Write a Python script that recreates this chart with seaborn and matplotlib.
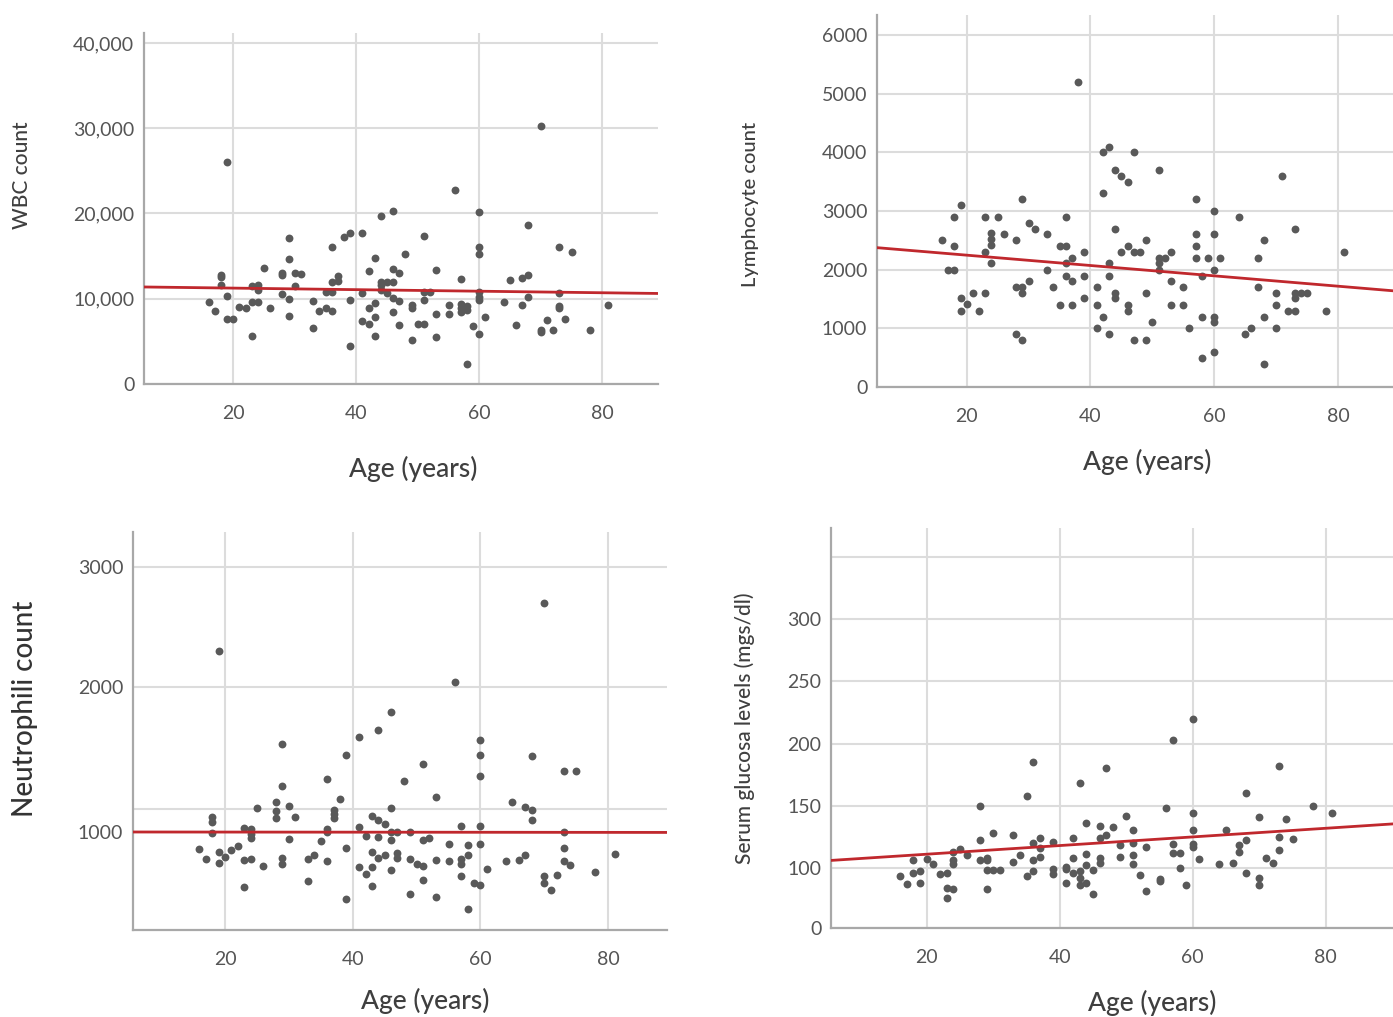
import numpy as np
import pandas as pd
import matplotlib
matplotlib.use("Agg")
import matplotlib.pyplot as plt
import seaborn as sns

# --- Data (age in years) ---
wbc_age = [
    19, 18, 18, 18, 16, 17, 19, 19, 20,
    21, 22, 23, 23, 24, 23, 24, 24, 25, 26,
    28, 28, 28, 29, 29, 30, 31, 30, 29, 29,
    33, 33, 34, 35, 36, 35, 36, 36, 37, 37,
    36, 38, 39, 41, 39, 39, 41, 41, 42, 42,
    43, 43, 43, 42, 43, 44, 46, 44, 44, 44,
    45, 46, 45, 46, 47, 46, 47, 46, 47, 48,
    49, 49, 49, 50, 51, 51, 52, 51, 51, 53,
    53, 53, 55, 55, 56, 57, 57, 57, 57, 58,
    58, 59, 58, 60, 60, 60, 60, 60, 60, 60,
    61, 64, 65, 66, 67, 67, 68, 68, 68, 70,
    70, 70, 71, 72, 73, 73, 73, 73, 74, 75, 78, 81,
]
wbc = [
    26000, 12800, 12500, 11600, 9650, 8600, 10270, 7600, 7600,
    9030, 8880, 5580, 9570, 9650, 11470, 11590, 11010, 13640, 8950,
    13020, 12750, 10500, 17090, 14650, 13020, 12870, 11470, 9920, 8020,
    9730, 6550, 8600, 8880, 8600, 10810, 10810, 11980, 12640, 12050,
    16085, 17290, 17670, 17670, 9850, 4420, 10700, 7400, 7000, 8880,
    9460, 7830, 5580, 13260, 14810, 19650, 20310, 11980, 11590, 11010,
    11980, 11980, 10620, 10040, 9730, 13530, 13060, 8490, 6900, 15270,
    9260, 8950, 5190, 7000, 17400, 10810, 10810, 9850, 7000, 13370,
    8220, 5470, 9260, 8220, 22710, 12290, 9400, 8900, 8500, 9200,
    8700, 6820, 2290, 20190, 16050, 15230, 10740, 10230, 9850, 5850,
    7910, 9650, 12170, 6940, 9260, 12480, 12750, 18640, 10150, 30270,
    6360, 6100, 7520, 6360, 16050, 10620, 9190, 8880, 7640, 15540, 6360, 9260,
]

lym_age = [
    38, 16, 18, 19, 18, 17, 18, 19, 20, 19,
    21, 22, 23, 23, 25, 24, 24, 24, 23, 24,
    26, 28, 29, 30, 31, 28, 29, 29, 30, 28,
    29, 33, 33, 34, 35, 36, 36, 37, 36, 36,
    37, 35, 37, 39, 39, 39, 41, 41, 41, 42,
    43, 42, 43, 47, 44, 45, 46, 42, 44, 43,
    43, 44, 44, 46, 46, 45, 46, 47, 48, 49,
    49, 47, 49, 50, 51, 52, 51, 51, 53, 51,
    53, 53, 55, 55, 56, 57, 57, 57, 57, 59,
    61, 60, 60, 60, 58, 58, 60, 60, 58, 60,
    64, 65, 66, 67, 67, 68, 68, 68, 70, 70,
    70, 71, 73, 73, 74, 75, 73, 72, 73, 78, 81,
]
lym = [
    5200, 2500, 2900, 3100, 2400, 2000, 2000, 1510, 1410, 1300,
    1600, 1300, 1600, 2900, 2900, 2620, 2520, 2420, 2300, 2110,
    2600, 2500, 3200, 2800, 2700, 1710, 1710, 1600, 1810, 900,
    800, 2600, 2000, 1710, 2400, 2400, 2900, 2200, 2110, 1900,
    1810, 1400, 1400, 2300, 1900, 1510, 1710, 1400, 1000, 1200,
    900, 4000, 4090, 4000, 3700, 3600, 3500, 3300, 2700, 2110,
    1900, 1600, 1510, 1400, 1300, 2300, 2400, 2300, 2300, 2500,
    1600, 800, 800, 1100, 2200, 2200, 2110, 2000, 2300, 3700,
    1810, 1400, 1400, 1700, 1000, 3200, 2600, 2400, 2200, 2200,
    2200, 3000, 2600, 2000, 1900, 1200, 1200, 1100, 500, 600,
    2900, 900, 1000, 2200, 1700, 2500, 1200, 400, 1600, 1400,
    1000, 3600, 2700, 1600, 1600, 1600, 1510, 1300, 1300, 1300, 2300,
]

neu_age = [
    19, 18, 18, 18, 16, 17, 19, 19, 20, 21,
    22, 23, 24, 24, 24, 23, 24, 23, 25, 26,
    28, 28, 28, 29, 29, 29, 29, 30, 31, 30,
    33, 33, 34, 35, 36, 36, 36, 36, 37, 37,
    37, 38, 39, 39, 39, 41, 41, 42, 41, 42,
    43, 43, 43, 44, 43, 44, 45, 44, 44, 45,
    46, 46, 46, 47, 46, 46, 47, 47, 48, 49,
    49, 49, 70, 56, 60, 60, 60, 51, 53, 51,
    52, 50, 51, 51, 53, 53, 55, 55, 57, 57,
    57, 58, 58, 57, 58, 59, 60, 60, 60, 61,
    64, 65, 66, 67, 68, 67, 68, 68, 70, 70,
    71, 72, 73, 75, 73, 73, 73, 74, 78, 81,
]
neu = [
    2300, 1100, 1070, 990, 883, 814, 860, 786, 825, 874,
    906, 1025, 1021, 986, 959, 805, 814, 621, 1166, 763,
    1207, 1143, 1097, 1609, 1315, 821, 782, 1182, 1103, 954,
    660, 814, 839, 936, 1366, 1021, 998, 798, 1152, 1124,
    1097, 1230, 1533, 890, 538, 1653, 1032, 975, 756, 710,
    862, 756, 630, 1701, 1108, 1085, 1055, 966, 821, 839,
    1828, 1166, 1000, 1000, 943, 736, 855, 821, 1350, 1000,
    814, 575, 2700, 2044, 1637, 1533, 1384, 1469, 1241, 947,
    956, 779, 763, 671, 805, 552, 920, 798, 1039, 814,
    782, 839, 910, 694, 469, 648, 637, 1039, 920, 747,
    798, 1207, 805, 1172, 1149, 844, 1080, 1526, 694, 648,
    602, 706, 1418, 1418, 1000, 887, 798, 770, 722, 848,
]

glu_age = [
    16, 17, 18, 18, 19, 19, 20, 21, 22, 23,
    23, 24, 23, 24, 25, 24, 24, 26, 28, 28,
    28, 29, 29, 29, 30, 31, 29, 30, 33, 33,
    34, 35, 35, 36, 36, 37, 36, 36, 37, 37,
    39, 39, 39, 41, 41, 41, 42, 42, 42, 43,
    43, 43, 44, 43, 44, 44, 44, 45, 45, 46,
    46, 46, 46, 47, 47, 48, 50, 49, 49, 51,
    51, 51, 51, 52, 53, 53, 55, 55, 56, 57,
    57, 57, 58, 58, 59, 60, 60, 60, 60, 60,
    61, 64, 65, 66, 67, 67, 68, 68, 68, 70,
    70, 70, 71, 72, 73, 73, 73, 74, 75, 78, 81,
]
glu = [
    93, 87, 106, 96, 97, 88, 107, 103, 95, 96,
    84, 83, 76, 113, 115, 106, 103, 110, 150, 122,
    106, 106, 108, 98, 98, 98, 83, 128, 126, 105,
    110, 158, 93, 185, 120, 124, 106, 97, 116, 109,
    121, 99, 95, 101, 99, 88, 124, 108, 96, 97,
    92, 86, 88, 168, 136, 111, 102, 79, 98, 134,
    124, 108, 104, 180, 126, 133, 142, 118, 109, 130,
    120, 110, 103, 94, 117, 81, 91, 89, 148, 203,
    119, 112, 112, 100, 86, 220, 144, 130, 119, 117,
    107, 103, 130, 104, 118, 113, 160, 122, 96, 141,
    92, 86, 108, 104, 182, 125, 114, 139, 123, 150, 144,
]

# fitted lines (endpoints at the axis edges)
wbc_fit_x, wbc_fit_y = [5.48, 89.06], [11380, 10620]
lym_fit_x, lym_fit_y = [5.5, 88.9], [2375, 1640]
neu_fit_x, neu_fit_y = [5.6, 89.2], [1000, 997]
glu_fit_x, glu_fit_y = [5.6, 90.1], [105.9, 135.3]

# --- Style ---
sns.set_theme(style="whitegrid")
plt.rcParams["font.family"] = ["Lato", "DejaVu Sans"]

DOT = "#595959"
RED = "#c0282d"
GRID = "#dcdcdc"
SPINE = "#a8a8a8"
TICK = "#555555"
LABEL = "#3f3f3f"

W, H = 1393, 1017
fig = plt.figure(figsize=(W / 100, H / 100), dpi=100)


def make_ax(left, top, right, bottom):
    return fig.add_axes([left / W, 1 - bottom / H, (right - left) / W, (bottom - top) / H])


def style(ax):
    ax.set_facecolor("white")
    for s in ["top", "right"]:
        ax.spines[s].set_visible(False)
    for s in ["left", "bottom"]:
        ax.spines[s].set_color(SPINE)
        ax.spines[s].set_linewidth(1.6)
    ax.grid(True, which="both", color=GRID, linewidth=1.5)
    ax.set_axisbelow(True)
    ax.tick_params(axis="both", which="both", length=0, labelsize=14,
                   labelcolor=TICK, pad=7)
    ax.tick_params(axis="x", pad=15)
    ax.set_xticks([20, 40, 60, 80])
    ax.set_xlabel("")
    ax.set_ylabel("")


def draw(ax, x, y, fx, fy):
    sns.scatterplot(x=x, y=y, ax=ax, color=DOT, s=32, linewidth=0, zorder=3)
    sns.lineplot(x=fx, y=fy, ax=ax, color=RED, linewidth=2.0, zorder=4)


# --- WBC ---
ax1 = make_ax(144, 33, 658, 384)
draw(ax1, wbc_age, wbc, wbc_fit_x, wbc_fit_y)
style(ax1)
ax1.set_xlim(5.48, 89.06)
ax1.set_ylim(0, 41170)
ax1.set_yticks([0, 10000, 20000, 30000, 40000],
               labels=["0", "10,000", "20,000", "30,000", "40,000"])

# --- Lymphocyte ---
ax2 = make_ax(877, 15, 1393, 387)
draw(ax2, lym_age, lym, lym_fit_x, lym_fit_y)
style(ax2)
ax2.set_xlim(5.5, 88.9)
ax2.set_ylim(0, 6341)
ax2.set_yticks([0, 1000, 2000, 3000, 4000, 5000, 6000])

# --- Neutrophil: the printed axis is uneven, so a piecewise scale ---
neu_kv = [0, 1000, 2000, 4000]
neu_kt = [-145, 0, 145, 385]
ax3 = make_ax(133, 532, 667, 930)
ax3.set_yscale("function", functions=(lambda v: np.interp(v, neu_kv, neu_kt),
                                      lambda t: np.interp(t, neu_kt, neu_kv)))
draw(ax3, neu_age, neu, neu_fit_x, neu_fit_y)
style(ax3)
ax3.set_xlim(5.6, 89.2)
ax3.set_ylim(324, 3292)
ax3.set_yticks([1000, 2000, 3000])
ax3.set_yticks([1160], minor=True)
ax3.tick_params(axis="y", which="minor", labelleft=False)

# --- Glucose: broken axis near zero ---
glu_kv = [0, 70, 400]
glu_kt = [51.5, 70, 400]
ax4 = make_ax(831, 528, 1393, 928)
ax4.set_yscale("function", functions=(lambda v: np.interp(v, glu_kv, glu_kt),
                                      lambda t: np.interp(t, glu_kt, glu_kv)))
draw(ax4, glu_age, glu, glu_fit_x, glu_fit_y)
style(ax4)
ax4.set_xlim(5.6, 90.1)
ax4.set_ylim(0, 373.5)
ax4.set_yticks([0, 100, 150, 200, 250, 300])
ax4.set_yticks([350], minor=True)
ax4.tick_params(axis="y", which="minor", labelleft=False)

# --- Axis titles ---
def ftext(x, y, s, size, rot=0, color=LABEL, weight="medium"):
    fig.text(x / W, 1 - y / H, s, fontsize=size, rotation=rot, color=color,
             ha="center", va="center", fontweight=weight)


ftext(22, 175, "WBC count", 15, rot=90)
ftext(751, 204, "Lymphocyte count", 14.5, rot=90)
ftext(25, 709, "Neutrophili count", 20, rot=90, color="#333333")
ftext(745, 728, "Serum glucosa levels (mgs/dl)", 15, rot=90)
ftext(413, 469, "Age (years)", 19)
ftext(1147, 462, "Age (years)", 19)
ftext(425, 1001, "Age (years)", 19)
ftext(1152, 1003, "Age (years)", 19)

fig.savefig("out.png", dpi=100, facecolor="white")
